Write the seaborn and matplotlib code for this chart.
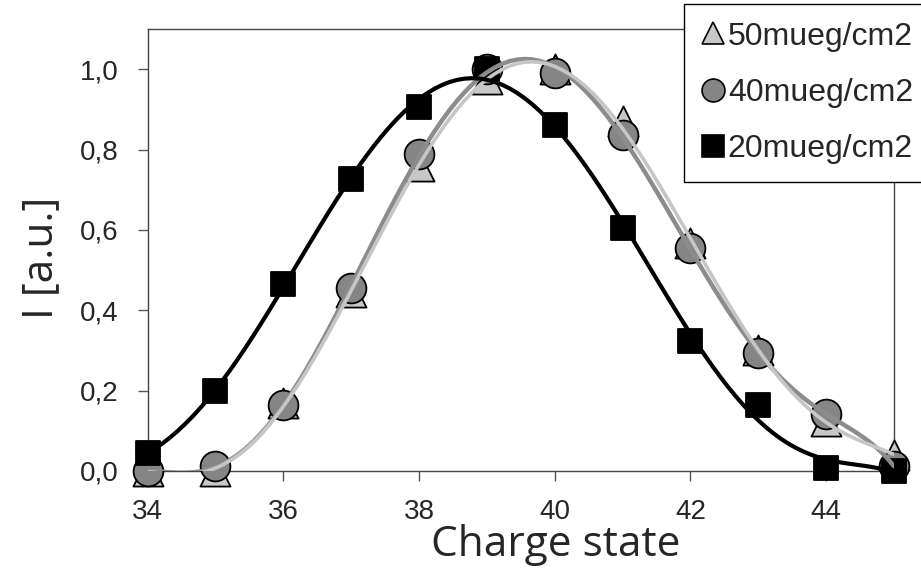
import pandas as pd
import seaborn as sns
import matplotlib.pyplot as plt
from matplotlib.lines import Line2D
from matplotlib.ticker import FuncFormatter


# Data
charge = [34, 35, 36, 37, 38, 39, 40, 41, 42, 43, 44, 45]
i_50 = [0.0, 0.0, 0.17, 0.445, 0.76, 0.975, 1.0, 0.87, 0.567, 0.30, 0.125, 0.04]
i_40 = [0.0, 0.012, 0.163, 0.455, 0.79, 1.0, 0.99, 0.836, 0.555, 0.293, 0.142, 0.012]
i_20 = [0.044, 0.20, 0.465, 0.727, 0.906, 1.0, 0.861, 0.604, 0.323, 0.164, 0.007, 0.0]
labels = ['50mueg/cm2', '40mueg/cm2', '20mueg/cm2']

df = pd.DataFrame({
    'charge': charge * 3,
    'I': i_50 + i_40 + i_20,
    'dose': [lab for lab in labels for _ in charge],
})

# marker, scatter size, face colour
marker_style = {
    '50mueg/cm2': ('^', 470, '#c8c8c8'),
    '40mueg/cm2': ('o', 460, '#858585'),
    '20mueg/cm2': ('s', 275, 'black'),
}
# fit line colour, width (drawing order: dark gray, light gray, black)
line_style = {
    '40mueg/cm2': ('#8c8c8c', 3.2),
    '50mueg/cm2': ('#c6c6c6', 2.6),
    '20mueg/cm2': ('black', 3.0),
}

sns.set_style('ticks')
plt.rcParams['font.family'] = ['Liberation Sans', 'DejaVu Sans']

fig = plt.figure(figsize=(9.21, 5.72), dpi=100)
ax = fig.add_axes([0.1602, 0.1766, 0.8105, 0.7727])

# ===markers===
for lab in labels:
    sub = df[df['dose'] == lab]
    m, s, fc = marker_style[lab]
    sns.scatterplot(data=sub, x='charge', y='I', marker=m, s=s,
                    color=fc, edgecolor='black', linewidth=1.3,
                    ax=ax, zorder=3, legend=False, clip_on=False)

# ===fit curves (polynomial regression done by seaborn)===
for lab, (c, lw) in line_style.items():
    sub = df[df['dose'] == lab]
    sns.regplot(data=sub, x='charge', y='I', order=6, ci=None,
                scatter=False, truncate=True, color=c,
                line_kws=dict(lw=lw, zorder=4), ax=ax)

ax.set_xlim(34, 45)
ax.set_ylim(0, 1.1)
ax.set_xticks([34, 36, 38, 40, 42, 44])
ax.set_yticks([0, 0.2, 0.4, 0.6, 0.8, 1.0])
ax.yaxis.set_major_formatter(FuncFormatter(lambda v, p: f'{v:.1f}'.replace('.', ',')))
ax.tick_params(axis='both', direction='out', length=7, width=1,
               color='#555555', labelsize=20)
ax.tick_params(axis='x', pad=13)
ax.tick_params(axis='y', pad=14)
for sp in ax.spines.values():
    sp.set_visible(True)
    sp.set_color('#444444')
    sp.set_linewidth(1.0)

ax.set_xlabel('Charge state', family=['Open Sans', 'DejaVu Sans'], fontsize=30.5)
ax.set_ylabel('I [a.u.]', family=['Open Sans', 'DejaVu Sans'], fontsize=30.5)
ax.xaxis.set_label_coords(0.547, -0.12)
ax.yaxis.set_label_coords(-0.115, 0.482)

# ===legend===
handles = [
    Line2D([], [], ls='none', marker=marker_style[lab][0],
           mfc=marker_style[lab][2], mec='black', mew=1.2, ms=16.5)
    for lab in labels
]
fig.legend(handles, labels, loc='upper left',
           bbox_to_anchor=(684 / 921, 1 - 4 / 572),
           bbox_transform=fig.transFigure,
           fontsize=23, frameon=True, fancybox=False, framealpha=1,
           edgecolor='black', borderpad=0.55, borderaxespad=0,
           handlelength=0.7, handletextpad=0.12, labelspacing=0.82)

fig.savefig('out.png', dpi=100)
